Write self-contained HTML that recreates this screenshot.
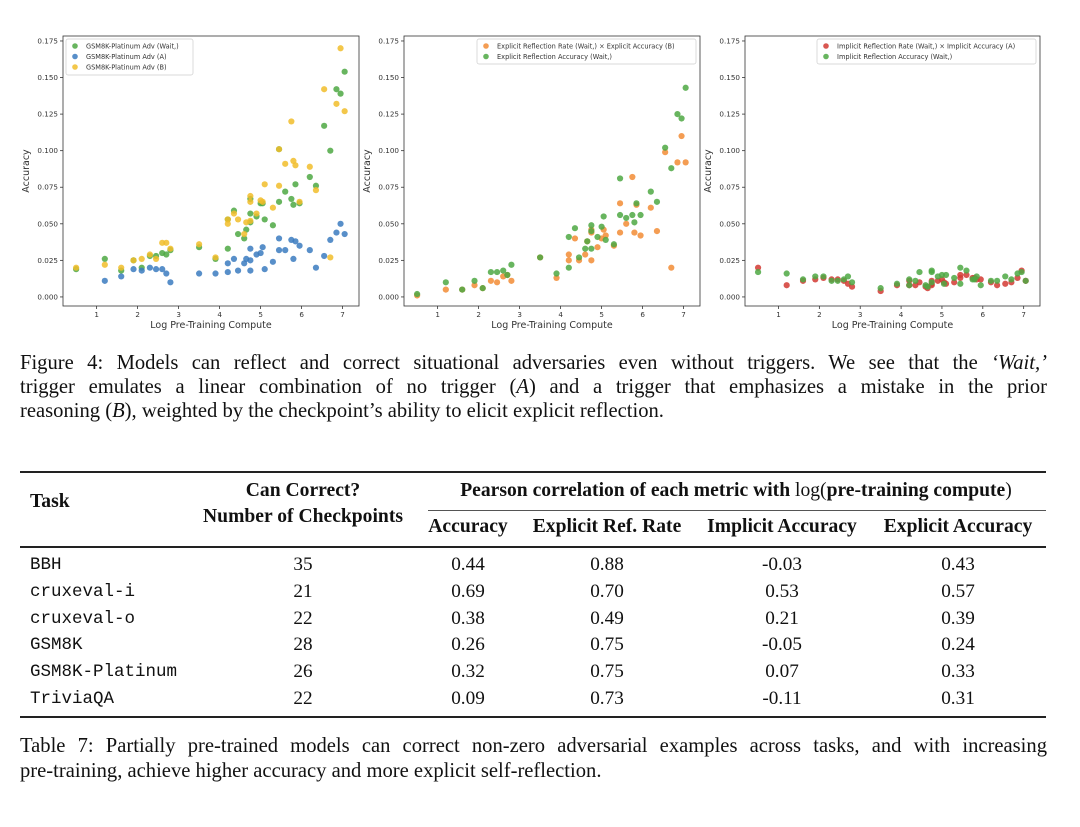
<!DOCTYPE html>
<html><head><meta charset="utf-8"><style>
body{margin:0;background:#fff;width:1080px;height:827px;position:relative;overflow:hidden;font-family:"Liberation Serif",serif;color:#111}
.t{position:absolute;white-space:nowrap}
.cap{position:absolute;left:20px;width:1027px;font-size:20.6px;text-align:justify;text-align-last:justify;white-space:nowrap}
.h{font-weight:bold;font-size:19.6px}
.c{transform:translateX(-50%);font-size:19.2px}
.m{font-family:"Liberation Mono",monospace;font-size:17.5px}
.rule{position:absolute;background:#222}
svg text{font-family:"DejaVu Sans","Liberation Sans",sans-serif;fill:#333}
</style></head><body>
<svg id="charts" width="1080" height="340" style="position:absolute;left:0;top:0"></svg>

<div class="cap" style="top:352px">Figure 4: Models can reflect and correct situational adversaries even without triggers. We see that the <i>‘Wait,’</i></div>
<div class="cap" style="top:376px">trigger emulates a linear combination of no trigger (<i>A</i>) and a trigger that emphasizes a mistake in the prior</div>
<div class="cap" style="top:400px;text-align-last:left">reasoning (<i>B</i>), weighted by the checkpoint’s ability to elicit explicit reflection.</div>

<div>
<div class="rule" style="left:20px;width:1026px;top:471px;height:2px"></div>
<div class="rule" style="left:428px;width:618px;top:510px;height:1px;background:#555"></div>
<div class="rule" style="left:20px;width:1026px;top:546px;height:1.5px"></div>
<div class="rule" style="left:20px;width:1026px;top:716px;height:2px"></div>
<div class="t h" style="left:30px;top:491px">Task</div>
<div class="t h c" style="left:303px;top:480px;font-size:19.6px">Can Correct?</div>
<div class="t h c" style="left:303px;top:506px;font-size:19.6px">Number of Checkpoints</div>
<div class="t h c" style="left:736px;top:480px;font-size:19.6px">Pearson correlation of each metric with <span style="font-weight:normal">log(</span>pre-training compute<span style="font-weight:normal">)</span></div>
<div class="t h c" style="left:468px;top:516px;font-size:19.6px">Accuracy</div>
<div class="t h c" style="left:607px;top:516px;font-size:19.6px">Explicit Ref. Rate</div>
<div class="t h c" style="left:782px;top:516px;font-size:19.6px">Implicit Accuracy</div>
<div class="t h c" style="left:958px;top:516px;font-size:19.6px">Explicit Accuracy</div>
<div id="rows"></div>
</div>

<div class="cap" style="top:735px">Table 7: Partially pre-trained models can correct non-zero adversarial examples across tasks, and with increasing</div>
<div class="cap" style="top:760px;text-align-last:left">pre-training, achieve higher accuracy and more explicit self-reflection.</div>

<script>
const tasks=["BBH","cruxeval-i","cruxeval-o","GSM8K","GSM8K-Platinum","TriviaQA"];
const checkpoints=["35","21","22","28","26","22"];
const accCorr=["0.44","0.69","0.38","0.26","0.32","0.09"];
const refRateCorr=["0.88","0.70","0.49","0.75","0.75","0.73"];
const implCorr=["-0.03","0.53","0.21","-0.05","0.07","-0.11"];
const explCorr=["0.43","0.57","0.39","0.24","0.33","0.31"];

const xs=[0.5,1.2,1.6,1.9,2.1,2.3,2.45,2.6,2.7,2.8,3.5,3.9,4.2,4.2,4.35,4.45,4.6,4.65,4.75,4.75,4.75,4.9,5.0,5.05,5.1,5.3,5.45,5.45,5.6,5.75,5.8,5.85,5.95,6.2,6.35,6.55,6.7,6.85,6.95,7.05];
const waitAcc=[0.019,0.026,0.018,0.025,0.020,0.028,0.028,0.030,0.029,0.032,0.034,0.026,0.053,0.033,0.059,0.043,0.040,0.046,0.067,0.057,0.051,0.055,0.064,0.064,0.053,0.049,0.101,0.065,0.072,0.067,0.063,0.077,0.064,0.082,0.076,0.117,0.100,0.142,0.139,0.154];
const aAcc=[null,0.011,0.014,0.019,0.018,0.020,0.019,0.019,0.016,0.010,0.016,0.016,0.023,0.017,0.026,0.018,0.023,0.026,0.033,0.025,0.018,0.029,0.030,0.034,0.019,0.024,0.040,0.032,0.032,0.039,0.026,0.038,0.035,0.032,0.020,0.028,0.039,0.044,0.050,0.043];
const bAcc=[0.020,0.022,0.020,0.025,0.026,0.029,0.026,0.037,0.037,0.033,0.036,0.027,0.053,0.050,0.057,0.053,0.043,0.051,0.069,0.065,0.052,0.057,0.066,0.065,0.077,0.061,0.101,0.076,0.091,0.120,0.093,0.090,0.065,0.089,0.073,0.142,0.027,0.132,0.170,0.127];
const explProd=[0.001,0.005,0.005,0.008,0.006,0.011,0.010,0.014,0.015,0.011,0.027,0.013,0.029,0.025,0.040,0.025,0.029,0.038,0.044,0.046,0.025,0.034,0.040,0.046,0.042,0.035,0.064,0.044,0.050,0.082,0.044,0.063,0.042,0.061,0.045,0.099,0.020,0.092,0.110,0.092];
const explAcc=[0.002,0.010,0.005,0.011,0.006,0.017,0.017,0.018,0.015,0.022,0.027,0.016,0.041,0.020,0.047,0.027,0.033,0.038,0.049,0.045,0.033,0.041,0.048,0.055,0.039,0.036,0.081,0.056,0.054,0.056,0.051,0.064,0.056,0.072,0.065,0.102,0.088,0.125,0.122,0.143];
const implProd=[0.020,0.008,0.011,0.012,0.013,0.012,0.012,0.011,0.009,0.007,0.004,0.008,0.008,0.011,0.008,0.010,0.007,0.006,0.008,0.011,0.009,0.011,0.012,0.010,0.009,0.010,0.015,0.013,0.015,0.013,0.013,0.012,0.012,0.010,0.008,0.009,0.010,0.013,0.018,0.011];
const implAcc=[0.017,0.016,0.012,0.014,0.014,0.011,0.011,0.012,0.014,0.010,0.006,0.009,0.012,0.008,0.011,0.017,0.008,0.007,0.018,0.017,0.010,0.014,0.015,0.009,0.015,0.013,0.020,0.009,0.018,0.012,0.012,0.014,0.008,0.011,0.011,0.014,0.012,0.016,0.017,0.011];
const yTicks=[0,0.025,0.05,0.075,0.1,0.125,0.15,0.175];
const yTickLabels=["0.000","0.025","0.050","0.075","0.100","0.125","0.150","0.175"];
const xTicks=[1,2,3,4,5,6,7];

const rowsEl=document.getElementById('rows');
const colX=[303,468,607,782,958];
tasks.forEach((t,i)=>{
  const top=554+i*26.8;
  const d=document.createElement('div');d.className='t m';d.style.left='30px';d.style.top=(top+1)+'px';d.textContent=t;
  
  
  rowsEl.appendChild(d);
  [checkpoints[i],accCorr[i],refRateCorr[i],implCorr[i],explCorr[i]].forEach((v,j)=>{
    const c=document.createElement('div');c.className='t c';c.style.left=colX[j]+'px';c.style.top=top+'px';c.textContent=v;
    
    
    rowsEl.appendChild(c);
  });
});

const NS='http://www.w3.org/2000/svg';
const svg=document.getElementById('charts');
function el(tag,attrs,parent){const e=document.createElementNS(NS,tag);for(const k in attrs)e.setAttribute(k,attrs[k]);(parent||svg).appendChild(e);return e;}
const C={green:'#4ea843',blue:'#3b7bbf',yellow:'#f1bd2a',orange:'#f28c35',red:'#d23a33'};
function chart(name,L,R,series,legend){
  const T=36,B=306;
  const xs0=0.18,xs1=7.4,y0=-0.0062,y1=0.1784;
  const X=v=>L+(v-xs0)/(xs1-xs0)*(R-L);
  const Y=v=>B-(v-y0)/(y1-y0)*(B-T);
  const g=el('g',{});
  
  
  el('rect',{x:L,y:T,width:R-L,height:B-T,fill:'none',stroke:'#333','stroke-width':0.8},g);
  yTicks.forEach((v,i)=>{
    el('line',{x1:L-3,x2:L,y1:Y(v),y2:Y(v),stroke:'#333','stroke-width':0.8},g);
    const t=el('text',{x:L-5,y:Y(v)+2.5,'font-size':7.2,'text-anchor':'end'},g);t.textContent=yTickLabels[i];
  });
  xTicks.forEach(v=>{
    el('line',{x1:X(v),x2:X(v),y1:B,y2:B+3,stroke:'#333','stroke-width':0.8},g);
    const t=el('text',{x:X(v),y:B+11,'font-size':7.2,'text-anchor':'middle'},g);t.textContent=v;
  });
  const xt=el('text',{x:(L+R)/2,y:B+22,'font-size':9.5,'text-anchor':'middle'},g);xt.textContent='Log Pre-Training Compute';
  const yx=L-34,yy=(T+B)/2;
  const yt=el('text',{x:yx,y:yy,'font-size':9.5,'text-anchor':'middle',transform:`rotate(-90 ${yx} ${yy})`},g);yt.textContent='Accuracy';
  series.forEach(s=>{
    s.vals.forEach((v,i)=>{
      if(v===null)return;
      const c=el('circle',{cx:X(xs[i]),cy:Y(v),r:3.1,fill:s.color,'fill-opacity':0.85},g);
      
      
    });
  });
  const lg=el('g',{},g);
  
  
  el('rect',{x:legend.x,y:legend.y,width:legend.w,height:legend.h,fill:'#fff','fill-opacity':0.85,stroke:'#ccc','stroke-width':0.7,rx:2},lg);
  series.forEach((s,i)=>{
    const yy2=legend.y+7+i*10.5;
    el('circle',{cx:legend.x+9,cy:yy2,r:2.8,fill:s.color,'fill-opacity':0.85},lg);
    const t=el('text',{x:legend.x+20,y:yy2+2.4,'font-size':6.6},lg);t.textContent=s.label;
  });
}
chart('chart-gsm8k-platinum-adv',63,359,[
  {key:'wait',label:'GSM8K-Platinum Adv (Wait,)',vals:waitAcc,color:C.green},
  {key:'a',label:'GSM8K-Platinum Adv (A)',vals:aAcc,color:C.blue},
  {key:'b',label:'GSM8K-Platinum Adv (B)',vals:bAcc,color:C.yellow}],
  {x:66,y:39,w:127,h:36});
chart('chart-explicit-reflection',404,700,[
  {key:'explicit-product',label:'Explicit Reflection Rate (Wait,) × Explicit Accuracy (B)',vals:explProd,color:C.orange},
  {key:'explicit-acc',label:'Explicit Reflection Accuracy (Wait,)',vals:explAcc,color:C.green}],
  {x:477,y:39,w:219,h:25});
chart('chart-implicit-reflection',745,1040,[
  {key:'implicit-product',label:'Implicit Reflection Rate (Wait,) × Implicit Accuracy (A)',vals:implProd,color:C.red},
  {key:'implicit-acc',label:'Implicit Reflection Accuracy (Wait,)',vals:implAcc,color:C.green}],
  {x:817,y:39,w:219,h:25});
</script>
</body></html>
